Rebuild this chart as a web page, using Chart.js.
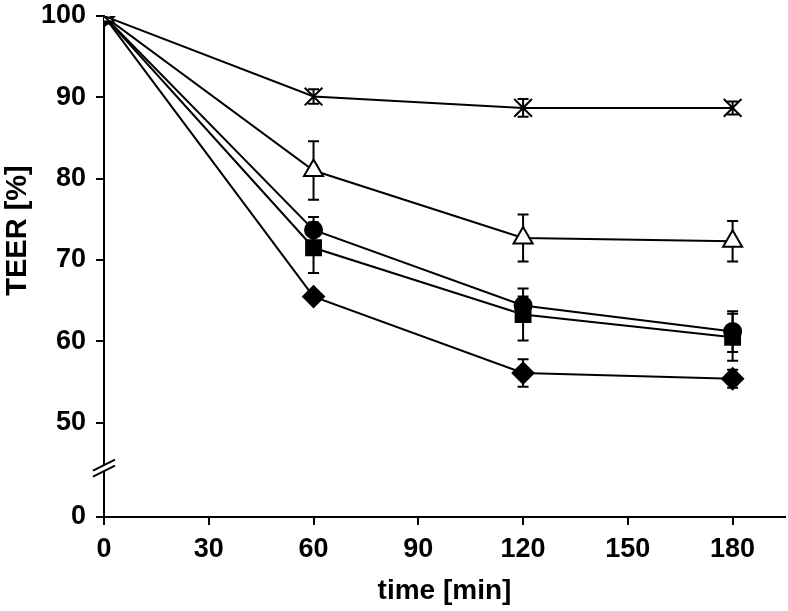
<!DOCTYPE html>
<html><head><meta charset="utf-8">
<script src="https://cdn.jsdelivr.net/npm/chart.js@4/dist/chart.umd.min.js"></script>
<style>html,body{margin:0;padding:0;background:#fff}#wrap{width:788px;height:611px}</style>
</head><body><div id="wrap"><canvas id="c"></canvas></div>
<script>
// ---- data ----
const times = [0, 60, 120, 180];
const xTickValues = [0, 30, 60, 90, 120, 150, 180];
const yTickValues = [50, 60, 70, 80, 90, 100];
const yZeroPosition = 38.4;   // where the "0" of the broken axis sits
const yBreakPosition = 44.4;  // axis break mark
const yZeroLabel = '0';
const xTitle = 'time [min]';
const yTitle = 'TEER [%]';

const seriesCross    = [100, 90.1, 88.7, 88.7];
const errCross       = [0.3, 0.9, 1.1, 0.8];
const seriesTriangle = [100, 81.0, 72.7, 72.3];
const errTriangle    = [0.3, 3.6, 2.9, 2.5];
const seriesCircle   = [100, 73.7, 64.4, 61.2];
const errCircle      = [0.3, 1.6, 1.1, 2.5];
const seriesSquare   = [100, 71.5, 63.3, 60.5];
const errSquare      = [0.3, 3.1, 3.2, 2.9];
const seriesDiamond  = [100, 65.5, 56.1, 55.4];
const errDiamond     = [0.3, 0.7, 1.7, 1.1];

const FONT = 'Liberation Sans, Arial, Helvetica, sans-serif';

function pts(vals) { return vals.map((v, i) => ({x: times[i], y: v})); }
function ds(vals, errs, style, radius, fill) {
  return {
    data: pts(vals), errors: errs,
    borderColor: '#000', borderWidth: 2,
    pointStyle: style, pointRadius: radius, pointHoverRadius: radius,
    pointBackgroundColor: fill, pointBorderColor: '#000', pointBorderWidth: 2,
    tension: 0, clip: 0, fill: false
  };
}

const errorBars = {
  id: 'errorBars',
  beforeDatasetsDraw(chart) {
    const ctx = chart.ctx, xs = chart.scales.x, ys = chart.scales.y;
    ctx.save();
    ctx.beginPath();
    ctx.rect(chart.chartArea.left, chart.chartArea.top, chart.chartArea.width, chart.chartArea.height);
    ctx.clip();
    ctx.strokeStyle = '#000'; ctx.lineWidth = 2;
    chart.data.datasets.forEach(d => {
      d.data.forEach((p, i) => {
        const e = d.errors[i];
        const px = xs.getPixelForValue(p.x);
        const y1 = ys.getPixelForValue(p.y + e), y2 = ys.getPixelForValue(p.y - e);
        ctx.beginPath();
        ctx.moveTo(px, y1); ctx.lineTo(px, y2);
        ctx.moveTo(px - 5.5, y1); ctx.lineTo(px + 5.5, y1);
        ctx.moveTo(px - 5.5, y2); ctx.lineTo(px + 5.5, y2);
        ctx.stroke();
      });
    });
    ctx.restore();
  }
};

const axisExtras = {
  id: 'axisExtras',
  afterDraw(chart) {
    const ctx = chart.ctx, ys = chart.scales.y;
    const x = chart.chartArea.left;
    const y = ys.getPixelForValue(yBreakPosition);
    ctx.save();
    ctx.fillStyle = '#fff';
    ctx.fillRect(x - 2, y - 3, 4, 6);
    ctx.strokeStyle = '#000'; ctx.lineWidth = 2;
    ctx.beginPath();
    ctx.moveTo(x - 11, y + 8.5); ctx.lineTo(x + 11, y - 2.5);
    ctx.moveTo(x - 11, y + 2.5); ctx.lineTo(x + 11, y - 8.5);
    ctx.stroke();
    // y axis title, placed as in the reference (above the axis centre)
    const yc = (ys.getPixelForValue(100) + ys.getPixelForValue(yZeroPosition)) / 2 - 36;
    ctx.translate(18, yc);
    ctx.rotate(-Math.PI / 2);
    ctx.fillStyle = '#000';
    ctx.font = 'bold 29px ' + FONT;
    ctx.textAlign = 'center';
    ctx.textBaseline = 'middle';
    ctx.fillText(yTitle, 0, 0);
    ctx.restore();
  }
};

new Chart(document.getElementById('c'), {
  type: 'line',
  data: {
    datasets: [
      ds(seriesCross, errCross, 'crossRot', 12.5, '#000'),
      ds(seriesTriangle, errTriangle, 'triangle', 11, '#fff'),
      ds(seriesCircle, errCircle, 'circle', 8.5, '#000'),
      ds(seriesSquare, errSquare, 'rect', 10.5, '#000'),
      ds(seriesDiamond, errDiamond, 'rectRot', 10.5, '#000')
    ]
  },
  options: {
    responsive: true, maintainAspectRatio: false, animation: false,
    events: [],
    layout: {autoPadding: false, padding: {top: 16, right: 3, left: 0, bottom: 0}},
    plugins: {legend: {display: false}, tooltip: {enabled: false}},
    scales: {
      x: {
        type: 'linear', min: 0, max: 195,
        afterBuildTicks: s => { s.ticks = xTickValues.map(v => ({value: v})); },
        afterFit: s => { s.height = 94; s.paddingLeft = 0; s.paddingRight = 0; },
        border: {display: true, color: '#000', width: 2},
        grid: {display: true, drawOnChartArea: false, drawTicks: true, tickLength: 8, color: '#000', lineWidth: 2},
        ticks: {color: '#000', padding: 8, font: {family: FONT, size: 27, weight: 'bold'}, maxRotation: 0},
        title: {display: true, text: xTitle, color: '#000', padding: {top: 0, bottom: 3}, font: {family: FONT, size: 28, weight: 'bold'}}
      },
      y: {
        type: 'linear', min: yZeroPosition, max: 100,
        afterBuildTicks: s => { s.ticks = [yZeroPosition].concat(yTickValues).map(v => ({value: v})); },
        afterFit: s => { s.width = 104; s.paddingTop = 0; s.paddingBottom = 0; },
        border: {display: true, color: '#000', width: 2},
        grid: {display: true, drawOnChartArea: false, drawTicks: true, tickLength: 8, color: '#000', lineWidth: 2},
        ticks: {color: '#000', padding: 10, font: {family: FONT, size: 27, weight: 'bold'},
          callback: v => (v < 45 ? yZeroLabel : String(v))},
        title: {display: false}
      }
    }
  },
  plugins: [errorBars, axisExtras]
});
</script></body></html>
